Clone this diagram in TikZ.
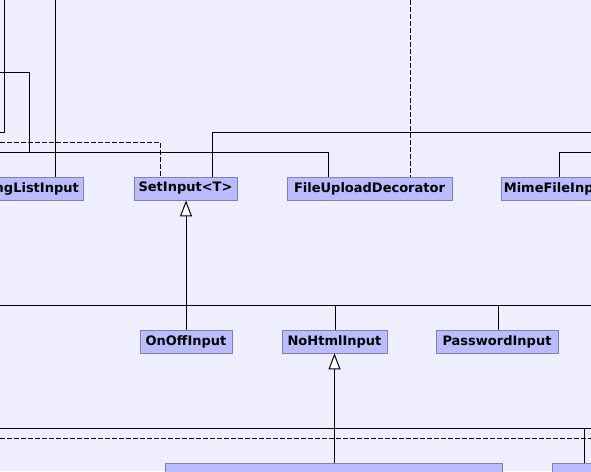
\documentclass[tikz,border=0pt]{standalone}
\usepackage{fontspec}
\setmainfont{DejaVu Sans}
\usetikzlibrary{arrows.meta}
\definecolor{bgc}{RGB}{238,238,255}
\definecolor{boxfill}{RGB}{187,187,255}
\definecolor{boxline}{RGB}{128,128,176}
\tikzset{
  cls/.style={draw=boxline, fill=boxfill, line width=0.9pt, minimum height=23pt, inner xsep=2pt, inner ysep=0pt,
    font=\fontsize{13}{15}\selectfont\bfseries, text=black},
  conn/.style={draw=black, line width=1pt},
  dep/.style={conn, dash pattern=on 5pt off 2pt},
  inh/.style={conn, -{Triangle[open, length=16pt, width=12pt, fill=white]}}
}
\begin{document}
\begin{tikzpicture}[x=1pt,y=-1pt]
\useasboundingbox (0,0) rectangle (591,471);
\clip (0,0) rectangle (591,471);
\fill[bgc] (0,0) rectangle (591,471);

% nodes
\node[cls, anchor=east, minimum width=120pt] (sli) at (84,188.5) {StringListInput};
\node[cls, minimum width=103pt] (si) at (185.5,188.5) {SetInput<T>};
\node[cls, minimum width=165pt] (fud) at (369.5,188.5) {FileUploadDecorator};
\node[cls, anchor=west, minimum width=110pt] (mfi) at (501,188.5) {MimeFileInput};
\node[cls, minimum width=92pt] (oo) at (186,341.5) {OnOffInput};
\node[cls, minimum width=105pt] (nh) at (334.5,341.5) {NoHtmlInput};
\node[cls, minimum width=122pt] (pw) at (497,341.5) {PasswordInput};
\node[cls, anchor=north west, minimum width=337pt] (bn1) at (165,463) {};
\node[cls, anchor=north west, minimum width=100pt] (bn2) at (552,463) {};

% free ends
\coordinate (a0) at (4,0);
\coordinate (a1) at (0,132);
\coordinate (b0) at (0,72);
\coordinate (b1) at (29,152);
\coordinate (c0) at (0,152);
\coordinate (d0) at (55,0);
\coordinate (e0) at (0,142);
\coordinate (f0) at (591,132);
\coordinate (g0) at (410,0);
\coordinate (h0) at (591,152);
\coordinate (k0) at (0,305);
\coordinate (k1) at (591,305);
\coordinate (m0) at (0,428);
\coordinate (m1) at (591,428);
\coordinate (n0) at (0,438);
\coordinate (n1) at (591,438);

% upper connectors
\draw[conn] (a0) |- (a1);
\draw[conn] (b0) -| (b1);
\draw[conn] (c0) -| ([xshift=-41.5pt]fud.north);
\draw[conn] (d0) -- ([xshift=-29pt]sli.north east);
\draw[dep] (e0) -| ([xshift=-25.5pt]si.north);
\draw[conn] (f0) -| ([xshift=26.5pt]si.north);
\draw[dep] (g0) -- ([xshift=40.5pt]fud.north);
\draw[conn] (h0) -| ([xshift=58pt]mfi.north west);

% middle
\draw[conn] (k0) -- (k1);
\draw[conn] ([xshift=0.5pt]nh.north |- k0) -- ([xshift=0.5pt]nh.north);
\draw[conn] ([xshift=1pt]pw.north |- k0) -- ([xshift=1pt]pw.north);
\draw[inh] (oo.north) -- (si.south -| oo.north);

% lower
\draw[conn] (m0) -- (m1);
\draw[dep] (n0) -- (n1);
\draw[conn] ([xshift=32pt]bn2.north west |- m0) -- ([xshift=32pt]bn2.north west);
\draw[inh] (bn1.north -| nh.south) -- (nh.south);
\end{tikzpicture}
\end{document}
